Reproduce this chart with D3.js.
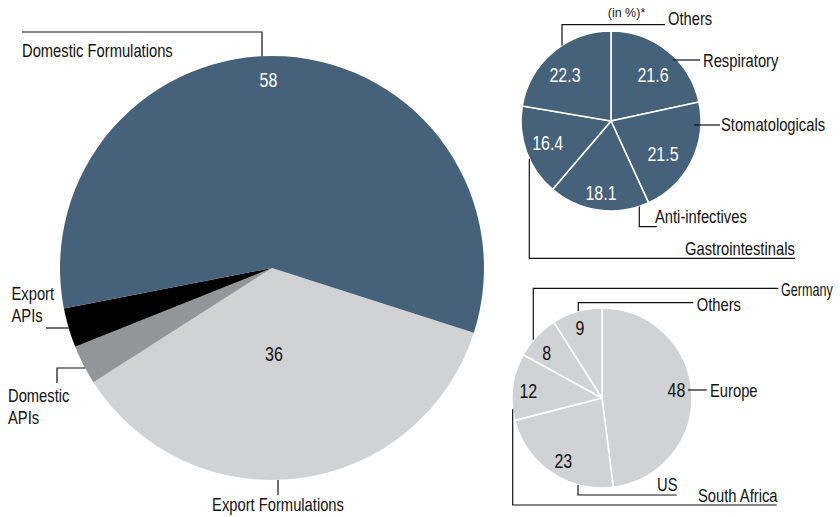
<!DOCTYPE html>
<html><head><meta charset="utf-8">
<script src="https://cdn.jsdelivr.net/npm/d3@7"></script>
<style>
body{margin:0;background:#fff}
svg text{font-family:"Liberation Sans",Arial,sans-serif;}
</style>
</head><body><svg id="c" width="840" height="517"></svg>
<script>
// ---- data ----
const segCategories = ["Export Formulations","Domestic APIs","Export APIs","Domestic Formulations"];
const segValues = [36, 3, 3, 58];
const therapyCategories = ["Respiratory","Stomatologicals","Anti-infectives","Gastrointestinals","Others"];
const therapyValues = [21.6, 21.5, 18.1, 16.4, 22.3];
const exportCategories = ["Europe","US","South Africa","Germany","Others"];
const exportValues = [48, 23, 12, 8, 9];
const unitNote = "(in %)*";

// ---- layout / style ----
const svg = d3.select("#c");
const DARK = "#46627b", LIGHT = "#d1d2d4", MID = "#939598", BLACK = "#000000";
const deg = Math.PI / 180;
const NARROW = 0.82; // horizontal squeeze to mimic a condensed face

const pies = [
  { cats: segCategories, vals: segValues, cx: 272, cy: 268, r: 212, start: 107.8,
    colors: [LIGHT, MID, BLACK, DARK], stroke: "none",
    numbers: { "Domestic Formulations": [268.5, 87, "#fff"], "Export Formulations": [274, 360.5, "#111"] },
    labels: [
      { lines: ["Domestic Formulations"], x: 22, y: 57, anchor: "start", path: [[22,32],[262,32],["edgeV",262,-1]] },
      { lines: ["Export","APIs"], x: 11.5, y: 300, anchor: "start", path: [[46,328],["edgeH",328,-1]] },
      { lines: ["Domestic","APIs"], x: 8, y: 401.5, anchor: "start", path: [[57,383],[57,368],["edgeH",368,-1]] },
      { lines: ["Export Formulations"], x: 278, y: 511, anchor: "middle", path: [[278,495],["edgeV",278,1]] }
    ] },
  { cats: therapyCategories, vals: therapyValues, cx: 611, cy: 121, r: 90, start: 0,
    colors: therapyCategories.map(() => DARK), stroke: "#fff",
    numbers: { "Others": [565, 81.5, "#fff"], "Respiratory": [653, 81.5, "#fff"], "Stomatologicals": [663, 160.5, "#fff"],
               "Anti-infectives": [601, 200, "#fff"], "Gastrointestinals": [547.7, 150, "#fff"] },
    labels: [
      { lines: ["Others"], x: 668, y: 24.5, anchor: "start", path: [["edgeV",562,-1],[562,24.7],[665,24.7]] },
      { lines: ["Respiratory"], x: 703, y: 67, anchor: "start", path: [[673,60],[700,60]] },
      { lines: ["Stomatologicals"], x: 721, y: 131, anchor: "start", path: [[694,125],[720,125]] },
      { lines: ["Anti-infectives"], x: 655, y: 223.3, anchor: "start", path: [["edgeV",639.3,1],[639.3,226.7],[656.7,226.7]] },
      { lines: ["Gastrointestinals"], x: 685, y: 255, anchor: "start", path: [["edgeV",529.3,1],[529.3,258.3],[795,258.3]] }
    ] },
  { cats: exportCategories, vals: exportValues, cx: 602, cy: 398, r: 90, start: 0,
    colors: exportCategories.map(() => LIGHT), stroke: "#fff",
    numbers: { "Europe": [676.5, 396.7, "#111"], "US": [563.3, 468.3, "#111"], "South Africa": [528.3, 398.3, "#111"],
               "Germany": [546.7, 360, "#111"], "Others": [580, 335, "#111"] },
    labels: [
      { lines: ["Germany"], x: 781, y: 295.5, anchor: "start", size: 18, squeeze: 0.7, path: [["edgeV",533.3,-1],[533.3,288.3],[778.3,288.3]] },
      { lines: ["Others"], x: 696.7, y: 310.7, anchor: "start", path: [["edgeV",578.3,-1],[578.3,302.7],[693.3,302.7]] },
      { lines: ["Europe"], x: 710, y: 396.5, anchor: "start", path: [[688,390],[706.7,390]] },
      { lines: ["US"], x: 657, y: 491, anchor: "start", path: [["edgeV",578,1],[578,495],[676.7,495]] },
      { lines: ["South Africa"], x: 698, y: 501.7, anchor: "start", path: [["edgeV",512.7,1],[512.7,505],[776.7,505]] }
    ] }
];

pies.forEach(p => {
  const pie = d3.pie().sort(null).value(d => d.v)
    .startAngle(p.start * deg).endAngle(p.start * deg + 2 * Math.PI);
  const arcs = pie(p.cats.map((c, i) => ({ c, v: p.vals[i] })));
  const arc = d3.arc().innerRadius(0).outerRadius(p.r);
  const color = d3.scaleOrdinal().domain(p.cats).range(p.colors);
  const g = svg.append("g").attr("transform", `translate(${p.cx},${p.cy})`);
  g.selectAll("path").data(arcs).join("path")
    .attr("d", arc).attr("fill", d => color(d.data.c))
    .attr("stroke", p.stroke).attr("stroke-width", p.stroke === "none" ? 0 : 1.6)
    .attr("stroke-linejoin", "round");

  // number labels
  const numbered = arcs.filter(d => p.numbers[d.data.c]);
  svg.append("g").selectAll("text").data(numbered).join("text")
    .attr("transform", d => `translate(${p.numbers[d.data.c][0]},${p.numbers[d.data.c][1]}) scale(${NARROW},1)`)
    .attr("text-anchor", "middle").attr("font-size", 19.5).attr("fill", d => p.numbers[d.data.c][2])
    .text(d => d3.format("")(d.data.v));

  // leader lines + labels
  const resolve = pt => {
    if (pt[0] === "edgeV") { const dx = pt[1] - p.cx; return [pt[1], p.cy + pt[2] * Math.sqrt(p.r*p.r - dx*dx)]; }
    if (pt[0] === "edgeH") { const dy = pt[1] - p.cy; return [p.cx + pt[2] * Math.sqrt(p.r*p.r - dy*dy), pt[1]]; }
    return pt;
  };
  const line = d3.line();
  p.labels.forEach(l => {
    svg.append("path").attr("d", line(l.path.map(resolve)))
      .attr("fill", "none").attr("stroke", "#111").attr("stroke-width", 1.2);
    const t = svg.append("text")
      .attr("transform", `translate(${l.x},${l.y}) scale(${l.squeeze || NARROW},1)`)
      .attr("text-anchor", l.anchor).attr("font-size", l.size || 18).attr("fill", "#111");
    l.lines.forEach((s, i) => t.append("tspan").attr("x", 0).attr("dy", i ? 22.5 : 0).text(s));
  });
});

svg.append("text").attr("x", 626.5).attr("y", 17).attr("text-anchor", "middle")
  .attr("font-size", 12.5).attr("fill", "#222").text(unitNote);
</script>
</body></html>
